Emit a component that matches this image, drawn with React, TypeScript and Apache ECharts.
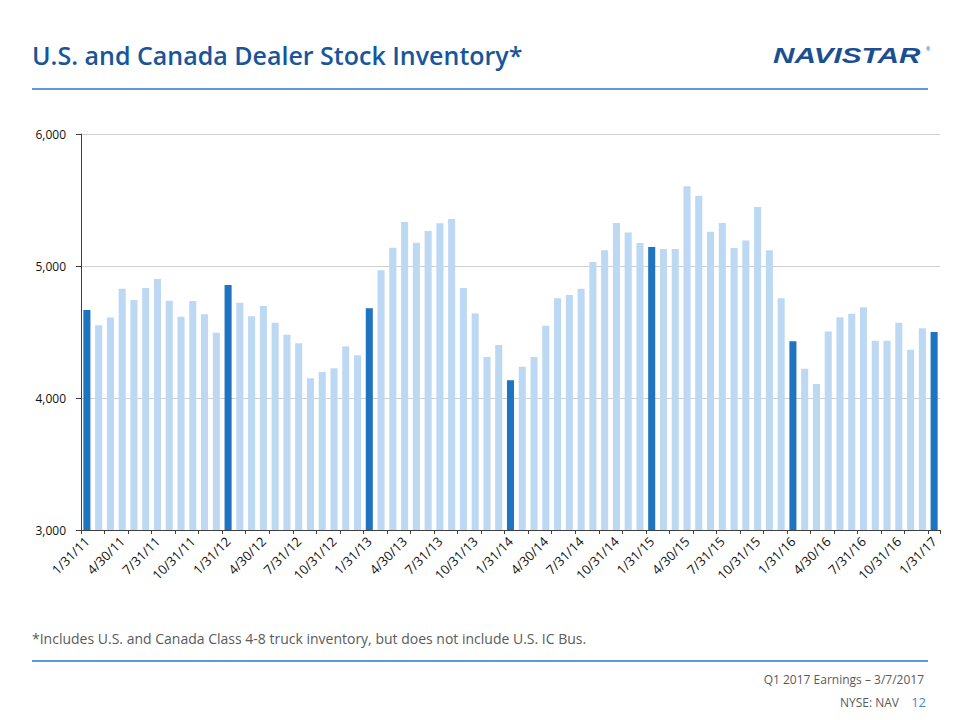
import React, { useEffect, useRef } from "react";
import * as echarts from "echarts";

const categories: string[] = [
  "1/31/11", "2/28/11", "3/31/11", "4/30/11", "5/31/11", "6/30/11", "7/31/11", "8/31/11", "9/30/11", "10/31/11", "11/30/11", "12/31/11",
  "1/31/12", "2/29/12", "3/31/12", "4/30/12", "5/31/12", "6/30/12", "7/31/12", "8/31/12", "9/30/12", "10/31/12", "11/30/12", "12/31/12",
  "1/31/13", "2/28/13", "3/31/13", "4/30/13", "5/31/13", "6/30/13", "7/31/13", "8/31/13", "9/30/13", "10/31/13", "11/30/13", "12/31/13",
  "1/31/14", "2/28/14", "3/31/14", "4/30/14", "5/31/14", "6/30/14", "7/31/14", "8/31/14", "9/30/14", "10/31/14", "11/30/14", "12/31/14",
  "1/31/15", "2/28/15", "3/31/15", "4/30/15", "5/31/15", "6/30/15", "7/31/15", "8/31/15", "9/30/15", "10/31/15", "11/30/15", "12/31/15",
  "1/31/16", "2/29/16", "3/31/16", "4/30/16", "5/31/16", "6/30/16", "7/31/16", "8/31/16", "9/30/16", "10/31/16", "11/30/16", "12/31/16",
  "1/31/17",
];

const inventory: number[] = [
  4667, 4551, 4609, 4828, 4742, 4833, 4902, 4737, 4616, 4735, 4634, 4495,
  4856, 4722, 4619, 4697, 4571, 4480, 4414, 4149, 4197, 4225, 4391, 4323,
  4679, 4967, 5139, 5333, 5177, 5265, 5323, 5356, 4833, 4641, 4311, 4402,
  4134, 4237, 4311, 4548, 4755, 4780, 4828, 5030, 5119, 5326, 5253, 5174,
  5144, 5129, 5129, 5604, 5533, 5260, 5326, 5136, 5194, 5447, 5119, 4755,
  4429, 4222, 4106, 4503, 4611, 4639, 4687, 4434, 4434, 4571, 4366, 4528,
  4500,
];

const highlighted: string[] = ["1/31/11", "1/31/12", "1/31/13", "1/31/14", "1/31/15", "1/31/16", "1/31/17"];

const yTicks: number[] = [3000, 4000, 5000, 6000];

const titleText = "U.S. and Canada Dealer Stock Inventory*";
const footnoteText = "*Includes U.S. and Canada Class 4-8 truck inventory, but does not include U.S. IC Bus.";
const footerLine1 = "Q1 2017 Earnings \u2013 3/7/2017";
const footerLine2 = "NYSE: NAV";
const pageNumber = "12";

const DARK = "#1f74c1";
const LIGHT = "#bcd8f3";
const FONT = "'Open Sans', 'Noto Sans', sans-serif";

export default function App() {
  const ref = useRef<HTMLDivElement>(null);

  useEffect(() => {
    if (!ref.current) return;
    const chart = echarts.init(ref.current, null, { renderer: "svg" });
    const option: any = {
      animation: false,
      backgroundColor: "#ffffff",
      textStyle: { fontFamily: FONT },
      grid: { left: 81, right: 20, top: 134, bottom: 190, containLabel: false },
      xAxis: {
        type: "category",
        data: categories,
        axisLine: { show: true, lineStyle: { color: "#404040", width: 1 } },
        axisTick: { show: true, interval: 1, length: 4, lineStyle: { color: "#404040" } },
        axisLabel: {
          interval: 2,
          rotate: 45,
          fontSize: 13,
          color: "#111111",
          fontFamily: FONT,
          margin: 9,
        },
        splitLine: { show: false },
      },
      yAxis: {
        type: "value",
        min: yTicks[0],
        max: yTicks[yTicks.length - 1],
        interval: 1000,
        axisLine: { show: true, lineStyle: { color: "#404040", width: 1 } },
        axisTick: { show: true, length: 5, lineStyle: { color: "#404040" } },
        axisLabel: {
          fontSize: 12,
          color: "#111111",
          fontFamily: FONT,
          margin: 15,
          formatter: (v: number) => v.toLocaleString("en-US"),
        },
        splitLine: { show: true, lineStyle: { color: "#cfcfcf", width: 1 } },
      },
      series: [
        {
          type: "bar",
          barCategoryGap: "40%",
          data: inventory.map((v, i) => ({
            value: v,
            itemStyle: { color: highlighted.includes(categories[i]) ? DARK : LIGHT },
          })),
        },
      ],
      graphic: [
        {
          type: "text",
          left: 32,
          top: 42,
          style: { text: titleText, fontSize: 25, fontWeight: 600, fill: "#17569a", fontFamily: FONT },
        },
        {
          type: "group",
          x: 773,
          y: 44,
          scaleX: 1.35,
          scaleY: 1,
          children: [
            {
              type: "text",
              x: 0,
              y: 0,
              style: {
                text: "NAVISTAR",
                fontSize: 22,
                fontWeight: "bold",
                fontStyle: "italic",
                fill: "#1b4f91",
                fontFamily: "'Liberation Sans', 'DejaVu Sans', sans-serif",
              },
            },
          ],
        },
        {
          type: "text",
          x: 926,
          y: 46,
          style: { text: "\u00ae", fontSize: 5, fill: "#1b4f91", fontFamily: FONT },
        },
        {
          type: "line",
          shape: { x1: 32, y1: 89, x2: 928, y2: 89 },
          style: { stroke: "#5b9bd5", lineWidth: 2 },
        },
        {
          type: "text",
          left: 32,
          top: 631,
          style: { text: footnoteText, fontSize: 14, fill: "#5a5a5a", fontFamily: FONT },
        },
        {
          type: "line",
          shape: { x1: 32, y1: 661, x2: 928, y2: 661 },
          style: { stroke: "#5b9bd5", lineWidth: 2 },
        },
        {
          type: "text",
          x: 924,
          y: 679,
          style: {
            text: footerLine1,
            fontSize: 12,
            fill: "#5a5a5a",
            align: "right",
            verticalAlign: "middle",
            fontFamily: FONT,
          },
        },
        {
          type: "text",
          x: 899,
          y: 702,
          style: {
            text: footerLine2,
            fontSize: 12,
            fill: "#5a5a5a",
            align: "right",
            verticalAlign: "middle",
            fontFamily: FONT,
          },
        },
        {
          type: "text",
          x: 926,
          y: 702,
          style: {
            text: pageNumber,
            fontSize: 13,
            fill: "#3f89cf",
            align: "right",
            verticalAlign: "middle",
            fontFamily: FONT,
          },
        },
      ],
    };
    chart.setOption(option);
    return () => chart.dispose();
  }, []);

  return (
    <div
      ref={ref}
      style={{ position: "fixed", left: 0, top: 0, width: 960, height: 720, background: "#fff" }}
    />
  );
}
